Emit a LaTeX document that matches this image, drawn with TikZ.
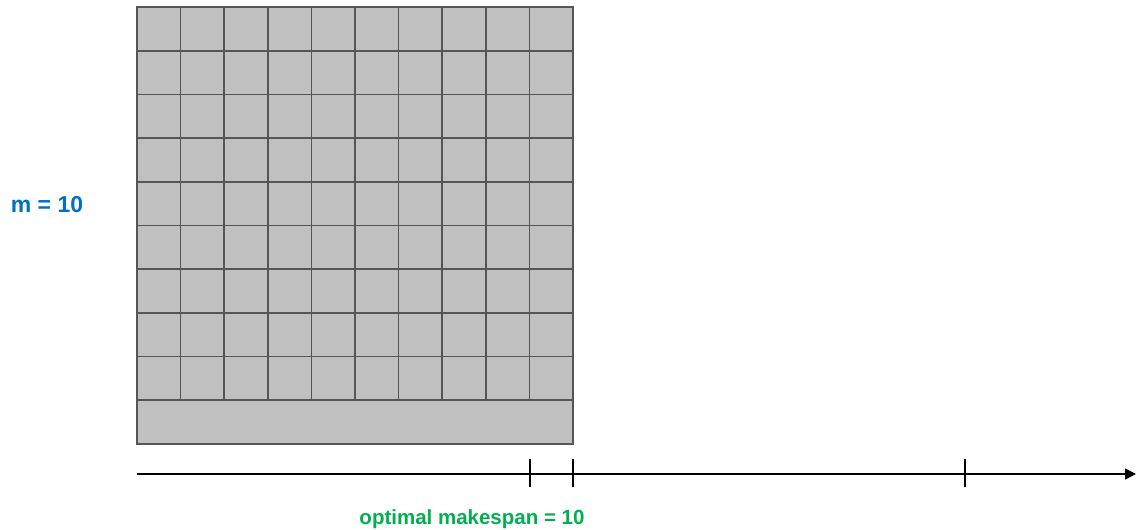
\documentclass[tikz,border=0pt]{standalone}
\usepackage{fontspec}
\setmainfont{Liberation Sans}
\usetikzlibrary{arrows.meta, positioning}

\definecolor{cellgray}{HTML}{C0C0C0}
\definecolor{edgegray}{HTML}{555555}
\definecolor{mblue}{HTML}{0070C0}
\definecolor{mgreen}{HTML}{00B050}

\begin{document}
\begin{tikzpicture}[
  x=1pt, y=-1pt,
  font=\fontsize{20.5}{24}\selectfont\bfseries,
  cell/.style ={draw=edgegray, fill=cellgray, line width=1.7pt},
  axis/.style ={-{Triangle[length=11pt, width=11pt]}, line width=1.6pt},
  tick/.style ={line width=1.5pt},
  lbl/.style  ={inner sep=0pt, anchor=center}
  ]
  \useasboundingbox (0,0) rectangle (1141,530);

  % unit jobs on 9 machines, long job on the last one
  \foreach \r in {0,...,8}
    \foreach \c in {0,...,9}
      \draw[cell] ({137+43.6*\c},{7+43.7*\r}) rectangle ++(43.6,43.7);
  \draw[cell] (137,400.3) rectangle (573,444);

  % time axis
  \coordinate (t0)   at (137,474);
  \coordinate (tend) at (1136,474);
  \draw[axis] (t0) -- (tend);
  \foreach \x in {530,573,965}
    \draw[tick] (\x,459) -- (\x,487);

  \node[lbl, text=mblue, font=\fontsize{23}{26}\selectfont\bfseries] (m) at (47,205) {m = 10};
  \node[lbl, text=mgreen] (opt) at (472,519) {optimal makespan = 10};

\end{tikzpicture}
\end{document}
